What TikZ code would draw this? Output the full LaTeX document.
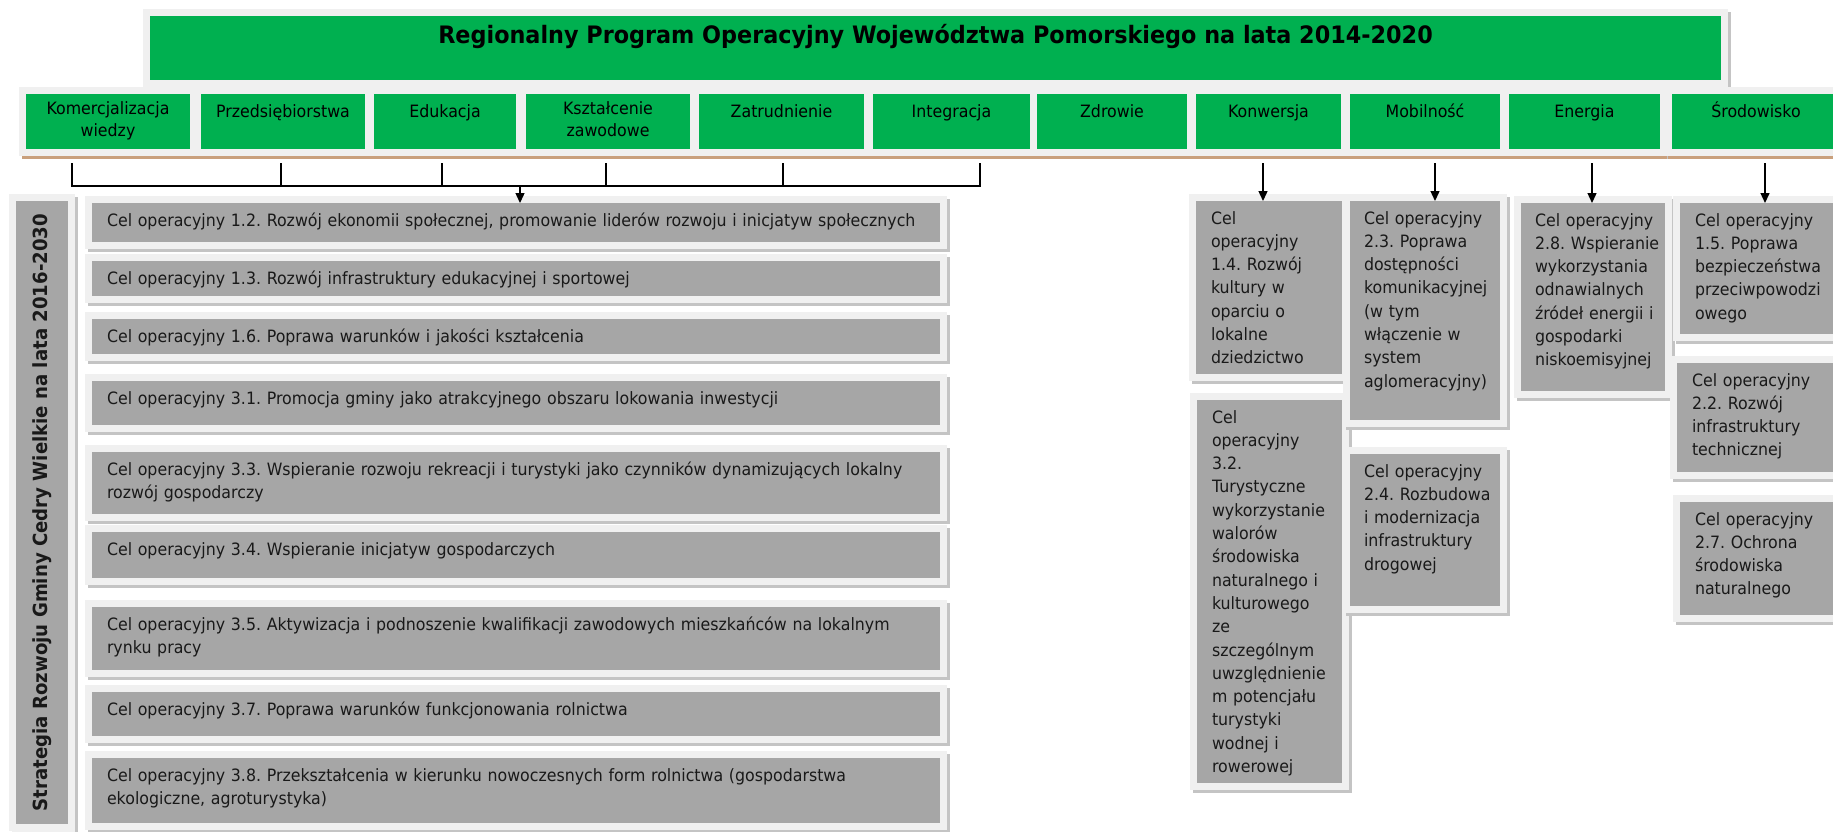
\documentclass[tikz,border=0pt]{standalone}
\usepackage{fontspec}
\setmainfont{DejaVu Sans}[FakeStretch=0.93]
\usetikzlibrary{calc,backgrounds,arrows.meta}
\definecolor{grn}{RGB}{0,176,80}
\definecolor{cellgray}{RGB}{166,166,166}
\definecolor{frm}{RGB}{240,240,240}
\definecolor{shd}{RGB}{196,196,196}
\definecolor{tanline}{RGB}{201,160,125}
\definecolor{ink}{RGB}{25,25,25}
\frenchspacing
\newcommand\bx[6]{\node[#1,minimum width={#5pt-#3pt},minimum height={#6pt-#4pt}] (#2) at (#3,#4) {};}
\newcommand\fr[3]{%
  \fill[frm] ($(#1.north west)+(-7,-7)$) rectangle ($(#1.south east)+(7,7)$);
  \fill[#2] ($(#1.south west)+(-4,7)$) rectangle ($(#1.south east)+(10,10)$);
  \fill[#3] ($(#1.north east)+(7,-4)$) rectangle ($(#1.south east)+(10,10)$);}
\tikzset{
  blk/.style={inner sep=0pt,outer sep=0pt,anchor=north west,draw=none},
  gbox/.style={blk,fill=grn},
  cbox/.style={blk,fill=cellgray},
  lbl/.style={inner sep=0pt,outer sep=0pt,anchor=north west,align=left,text width=900pt,text=ink,
    font=\fontsize{17}{23.3}\selectfont\frenchspacing,execute at begin node=\strut},
  slbl/.style={inner sep=0pt,outer sep=0pt,anchor=north,align=center,text=black,
    font=\fontsize{17}{21.6}\selectfont,execute at begin node=\strut},
  conn/.style={line width=1.4pt,draw=black},
  arr/.style={conn,-{Triangle[length=10pt,width=9pt]}},
}
\begin{document}
\begin{tikzpicture}[x=1pt,y=-1pt]
\useasboundingbox (0,0) rectangle (1833,831);
\clip (0,0) rectangle (1833,831);
% title
\bx{gbox}{tt}{150}{16}{1721}{80}
\node[anchor=base,font=\fontsize{24}{28}\selectfont\bfseries,text=black] (ttl) at (935.5,43.5) {Regionalny Program Operacyjny Województwa Pomorskiego na lata 2014-2020};
% sub row
\bx{gbox}{kom}{26}{94}{190}{149}
\bx{gbox}{prz}{201}{94}{365}{149}
\bx{gbox}{edu}{374}{94}{516}{149}
\bx{gbox}{ksz}{526}{94}{690}{149}
\bx{gbox}{zat}{699}{94}{864}{149}
\bx{gbox}{int}{873}{94}{1030}{149}
\bx{gbox}{zdr}{1037}{94}{1187}{149}
\bx{gbox}{kon}{1196}{94}{1341}{149}
\bx{gbox}{mob}{1350}{94}{1500}{149}
\bx{gbox}{ene}{1509}{94}{1660}{149}
\bx{gbox}{sro}{1672}{94}{1840}{149}
\foreach \n/\t in {kom/{Komercjalizacja\\wiedzy},prz/Przedsiębiorstwa,edu/Edukacja,ksz/{Kształcenie\\zawodowe},zat/Zatrudnienie,int/Integracja,zdr/Zdrowie,kon/Konwersja,mob/Mobilność,ene/Energia,sro/Środowisko}
  \node[slbl] (\n t) at ($(\n.north)+(0,7.9)$) {\t};
% left vertical
\bx{cbox}{sv}{16}{201}{68}{824}
\node[rotate=90,font=\fontsize{19.5}{24}\selectfont\bfseries,text=ink] (svt) at (sv.center) {Strategia Rozwoju Gminy Cedry Wielkie na lata 2016-2030};
% left rows
\bx{cbox}{c12}{92}{203}{940}{242}
\bx{cbox}{c13}{92}{261}{940}{296}
\bx{cbox}{c16}{92}{319}{940}{354}
\bx{cbox}{c31}{92}{381}{940}{425}
\bx{cbox}{c33}{92}{452}{940}{514}
\bx{cbox}{c34}{92}{532}{940}{578}
\bx{cbox}{c35}{92}{607}{940}{670}
\bx{cbox}{c37}{92}{692}{940}{736}
\bx{cbox}{c38}{92}{758}{940}{823}
\node[lbl] (c12t) at ($(c12.north west)+(15,6.7)$) {Cel operacyjny 1.2. Rozwój ekonomii społecznej, promowanie liderów rozwoju i inicjatyw społecznych};
\node[lbl] (c13t) at ($(c13.north west)+(15,6.7)$) {Cel operacyjny 1.3. Rozwój infrastruktury edukacyjnej i sportowej};
\node[lbl] (c16t) at ($(c16.north west)+(15,6.7)$) {Cel operacyjny 1.6. Poprawa warunków i jakości kształcenia};
\node[lbl] (c31t) at ($(c31.north west)+(15,6.7)$) {Cel operacyjny 3.1. Promocja gminy jako atrakcyjnego obszaru lokowania inwestycji};
\node[lbl] (c33t) at ($(c33.north west)+(15,6.7)$) {Cel operacyjny 3.3. Wspieranie rozwoju rekreacji i turystyki jako czynników dynamizujących lokalny\\rozwój gospodarczy};
\node[lbl] (c34t) at ($(c34.north west)+(15,6.7)$) {Cel operacyjny 3.4. Wspieranie inicjatyw gospodarczych};
\node[lbl] (c35t) at ($(c35.north west)+(15,6.7)$) {Cel operacyjny 3.5. Aktywizacja i podnoszenie kwalifikacji zawodowych mieszkańców na lokalnym\\rynku pracy};
\node[lbl] (c37t) at ($(c37.north west)+(15,6.7)$) {Cel operacyjny 3.7. Poprawa warunków funkcjonowania rolnictwa};
\node[lbl] (c38t) at ($(c38.north west)+(15,6.7)$) {Cel operacyjny 3.8. Przekształcenia w kierunku nowoczesnych form rolnictwa (gospodarstwa\\ekologiczne, agroturystyka)};
% right columns
\bx{cbox}{c14}{1196}{201}{1342}{374}
\bx{cbox}{c32}{1197}{400}{1342}{783}
\bx{cbox}{c23}{1350}{201}{1500}{420}
\bx{cbox}{c24}{1350}{454}{1500}{606}
\bx{cbox}{c28}{1521}{203}{1665}{391}
\bx{cbox}{c15}{1680}{203}{1845}{334}
\bx{cbox}{c22}{1677}{363}{1845}{472}
\bx{cbox}{c27}{1680}{502}{1845}{615}
\node[lbl] (c14t) at ($(c14.north west)+(15,6.7)$) {Cel\\operacyjny\\1.4. Rozwój\\kultury w\\oparciu o\\lokalne\\dziedzictwo};
\node[lbl] (c32t) at ($(c32.north west)+(15,6.7)$) {Cel\\operacyjny\\3.2.\\Turystyczne\\wykorzystanie\\walorów\\środowiska\\naturalnego i\\kulturowego\\ze\\szczególnym\\uwzględnienie\\m potencjału\\turystyki\\wodnej i\\rowerowej};
\node[lbl] (c23t) at ($(c23.north west)+(14,6.7)$) {Cel operacyjny\\2.3. Poprawa\\dostępności\\komunikacyjnej\\(w tym\\włączenie w\\system\\aglomeracyjny)};
\node[lbl] (c24t) at ($(c24.north west)+(14,6.7)$) {Cel operacyjny\\2.4. Rozbudowa\\i modernizacja\\infrastruktury\\drogowej};
\node[lbl] (c28t) at ($(c28.north west)+(14,6.7)$) {Cel operacyjny\\2.8. Wspieranie\\wykorzystania\\odnawialnych\\źródeł energii i\\gospodarki\\niskoemisyjnej};
\node[lbl] (c15t) at ($(c15.north west)+(15,6.7)$) {Cel operacyjny\\1.5. Poprawa\\bezpieczeństwa\\przeciwpowodzi\\owego};
\node[lbl] (c22t) at ($(c22.north west)+(15,6.7)$) {Cel operacyjny\\2.2. Rozwój\\infrastruktury\\technicznej};
\node[lbl] (c27t) at ($(c27.north west)+(15,6.7)$) {Cel operacyjny\\2.7. Ochrona\\środowiska\\naturalnego};
% frames
\begin{pgfonlayer}{background}
  \fr{tt}{frm}{shd}
  \foreach \n in {kom,prz,edu,ksz,zat,int,zdr,kon,mob,ene,sro} {\fr{\n}{tanline}{shd}}
  \fr{sv}{frm}{shd}
  \foreach \n in {c12,c13,c16,c31,c33,c34,c35,c37,c38,c14,c32,c23,c24,c28,c15,c22,c27} {\fr{\n}{shd}{shd}}
\end{pgfonlayer}
% connectors
\coordinate (join) at (520,186);
\draw[conn] ($(kom.south)+(-36,14)$) |- (join);
\draw[conn] ($(int.south)+(28.5,14)$) |- (join);
\draw[conn] ($(prz.south)+(-2,14)$) |- (join);
\draw[conn] ($(edu.south)+(-3,14)$) |- (join);
\draw[conn] ($(ksz.south)+(-2,14)$) |- (join);
\draw[conn] ($(zat.south)+(1.5,14)$) |- (join);
\draw[arr] (join) -- (join |- c12.north);
\coordinate (ka) at ($(kon.south)+(-5.5,14)$);
\coordinate (kb) at ($(mob.south)+(10,14)$);
\coordinate (kc) at ($(ene.south)+(7.5,14)$);
\coordinate (kd) at ($(sro.south)+(9,14)$);
\draw[arr] (ka) -- (ka |- c14.north);
\draw[arr] (kb) -- (kb |- c23.north);
\draw[arr] (kc) -- (kc |- c28.north);
\draw[arr] (kd) -- (kd |- c15.north);
\end{tikzpicture}
\end{document}
